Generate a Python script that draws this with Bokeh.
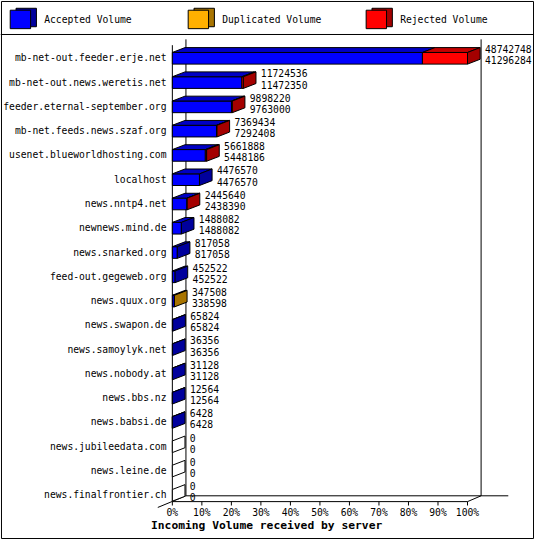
from bokeh.plotting import figure
from bokeh.models import Range1d
from bokeh.core.properties import value
from bokeh.embed import file_html
from bokeh.resources import INLINE

# Data
servers = ["mb-net-out.feeder.erje.net", "mb-net-out.news.weretis.net",
           "feeder.eternal-september.org", "mb-net.feeds.news.szaf.org",
           "usenet.blueworldhosting.com", "localhost", "news.nntp4.net",
           "newnews.mind.de", "news.snarked.org", "feed-out.gegeweb.org",
           "news.quux.org", "news.swapon.de", "news.samoylyk.net",
           "news.nobody.at", "news.bbs.nz", "news.babsi.de",
           "news.jubileedata.com", "news.leine.de", "news.finalfrontier.ch"]
total_volume = [48742748, 11724536, 9898220, 7369434, 5661888, 4476570, 2445640,
                1488082, 817058, 452522, 347508, 65824, 36356, 31128, 12564,
                6428, 0, 0, 0]
accepted_volume = [41296284, 11472350, 9763000, 7292408, 5448186, 4476570, 2438390,
                   1488082, 817058, 452522, 338598, 65824, 36356, 31128, 12564,
                   6428, 0, 0, 0]
duplicated_volume = [0, 0, 0, 0, 0, 0, 0, 0, 0, 0, 8910, 0, 0, 0, 0, 0, 0, 0, 0]
rejected_volume = [7446464, 252186, 135220, 77026, 213702, 0, 7250, 0, 0, 0,
                   0, 0, 0, 0, 0, 0, 0, 0, 0]
pct_ticks = [0, 10, 20, 30, 40, 50, 60, 70, 80, 90, 100]
pct_labels = ["0%", "10%", "20%", "30%", "40%", "50%", "60%", "70%", "80%", "90%", "100%"]
legend_names = ["Accepted Volume", "Duplicated Volume", "Rejected Volume"]

front_colors = ["#0000ff", "#ffb000", "#ff0000"]
top_colors = ["#0000c4", "#c48800", "#c40000"]
side_colors = ["#00009c", "#a87400", "#a40000"]

# geometry, in pixels of the original 550x555 image
W, H = 534, 539
X0, PX = 177, 3.04     # pixel of 0 % and pixels per percent
Y0, ROW = 59, 25       # pixel of first row and row pitch
MONO = value("DejaVu Sans Mono")
FS = "9.7px"


def fx(px):
    return (px - X0) / PX


def fy(py):
    return (py - Y0) / ROW


p = figure(width=W, height=H, x_range=Range1d(fx(0), fx(550)),
           y_range=Range1d(fy(555), fy(0)), output_backend="svg",
           toolbar_location=None, x_axis_location=None, y_axis_location=None,
           min_border=0)
p.grid.visible = False
p.outline_line_color = None
p.background_fill_color = "white"

# outer border and legend separator
p.line([fx(1), fx(549), fx(549), fx(1), fx(1)], [fy(1), fy(1), fy(554), fy(554), fy(1)],
       line_color="black", line_width=1)
p.line([fx(0), fx(550)], [fy(35), fy(35)], line_color="black")

# legend cubes
for j, name in enumerate(legend_names):
    lx = 10 + 183.3 * j
    p.patch([fx(lx + 6), fx(lx + 27), fx(lx + 27), fx(lx + 6)],
            [fy(8), fy(8), fy(27), fy(27)],
            fill_color=side_colors[j], line_color="black")
    p.quad(left=fx(lx), right=fx(lx + 21), top=fy(10), bottom=fy(29),
           fill_color=front_colors[j], line_color="black")
    p.text(x=[fx(lx + 35)], y=[fy(20)], text=[name], text_font=MONO,
           text_font_size=FS, text_baseline="middle", text_color="black")

# 3d frame
p.line([fx(177), fx(177)], [fy(46), fy(516)], line_color="black")
p.line([fx(191), fx(191)], [fy(40), fy(510)], line_color="black")
p.line([fx(495), fx(495)], [fy(40), fy(510)], line_color="black")
p.line([fx(191), fx(523)], [fy(510), fy(510)], line_color="black")
p.line([fx(177), fx(481), fx(495)], [fy(516), fy(516), fy(510)], line_color="black")
p.line([fx(162), fx(191)], [fy(522), fy(510)], line_color="black")
p.segment(x0=pct_ticks, y0=fy(516), x1=pct_ticks, y1=fy(520), line_color="black")
p.text(x=pct_ticks, y=[fy(527)] * len(pct_ticks), text=pct_labels, text_font=MONO,
       text_font_size=FS, text_align="center", text_baseline="middle",
       text_color="black")
p.text(x=[fx(155)], y=[fy(541)], text=["Incoming Volume received by server"],
       text_font=MONO, text_font_size="11.3px", text_font_style="bold",
       text_baseline="middle", text_color="black")

# bars
max_total = max(total_volume)
ddx, ddy = 13 / PX, 5 / ROW
fl, fr, ft, fb, fc = [], [], [], [], []
txs, tys, tcs = [], [], []
sxs, sys, scs = [], [], []
for i in range(len(servers)):
    top, bottom = i - 0.22, i + 0.26
    left = 0.0
    last = None
    for k, v in enumerate([accepted_volume[i], duplicated_volume[i], rejected_volume[i]]):
        if v <= 0:
            continue
        w = v / max_total * 100
        fl.append(left); fr.append(left + w); ft.append(top); fb.append(bottom)
        fc.append(front_colors[k])
        txs.append([left, left + w, left + w + ddx, left + ddx])
        tys.append([top, top, top - ddy, top - ddy])
        tcs.append(top_colors[k])
        left += w
        last = k
    sxs.append([left, left + ddx, left + ddx, left])
    sys.append([top, top - ddy, bottom - ddy, bottom])
    scs.append("white" if last is None else side_colors[last])

p.quad(left=fl, right=fr, top=ft, bottom=fb, fill_color=fc, line_color="black")
p.patches(txs, tys, fill_color=tcs, line_color="black")
p.patches(sxs, sys, fill_color=scs, line_color="black")

# labels
rows = list(range(len(servers)))
p.text(x=[fx(171)] * len(servers), y=rows, text=servers, text_font=MONO,
       text_font_size=FS, text_align="right", text_baseline="middle",
       text_color="black")
lab_x = [t / max_total * 100 + ddx + 5 / PX for t in total_volume]
p.text(x=lab_x, y=[r - 9 / ROW for r in rows], text=[str(t) for t in total_volume],
       text_font=MONO, text_font_size=FS, text_baseline="middle", text_color="black")
p.text(x=lab_x, y=[r + 2.5 / ROW for r in rows], text=[str(a) for a in accepted_volume],
       text_font=MONO, text_font_size=FS, text_baseline="middle", text_color="black")

open("out.html", "w").write(file_html(p, INLINE))
